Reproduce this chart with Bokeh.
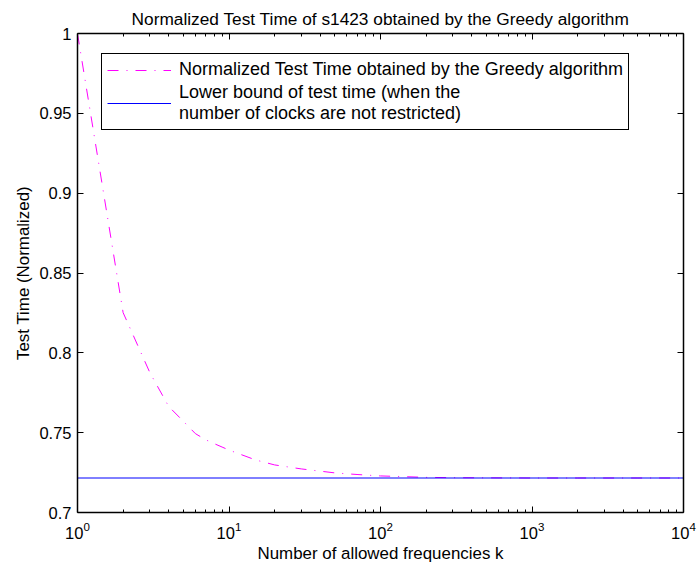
from bokeh.plotting import figure
from bokeh.models import FixedTicker, LogAxis, LinearAxis, Legend, LegendItem, Range1d
from bokeh.embed import file_html
from bokeh.resources import INLINE

# Data
k_vals = [1, 2, 3, 4, 5, 6, 7, 8, 9, 10, 15, 20, 30, 50, 70, 100, 150, 200, 300, 500, 1000, 2000, 5000, 10000]
greedy = [1.0, 0.8252, 0.7877, 0.7664, 0.7571, 0.7494, 0.7456, 0.7431, 0.7410, 0.7391,
          0.7329, 0.7298, 0.7273, 0.7248, 0.7238, 0.7229, 0.7224, 0.7220, 0.7218, 0.7217,
          0.7216, 0.7216, 0.7216, 0.7216]
bound_k = [1, 10000]
bound = [0.7216, 0.7216]

x_major = [1, 10, 100, 1000, 10000]
x_minor = [m * d for d in [1, 10, 100, 1000] for m in range(2, 10)]
y_major = [0.7, 0.75, 0.8, 0.85, 0.9, 0.95, 1.0]
y_labels = {0.7: "0.7", 0.75: "0.75", 0.8: "0.8", 0.85: "0.85", 0.9: "0.9", 0.95: "0.95", 1.0: "1"}

FONT = "Liberation Sans"

p = figure(
    frame_width=606, frame_height=479,
    x_axis_type="log",
    x_range=Range1d(1, 10000), y_range=Range1d(0.7, 1.0),
    output_backend="svg", toolbar_location=None,
    min_border_left=77, min_border_right=16, min_border_top=33, min_border_bottom=53,
    title="Normalized Test Time of s1423 obtained by the Greedy algorithm",
)
p.title.align = "center"
p.title.text_font = FONT
p.title.text_font_size = "17.3px"
p.title.text_font_style = "normal"
p.title.text_color = "black"
p.title.offset = 0
p.title.standoff = 10

# box is formed by the four axis lines; grid lines blend into the white background
p.xgrid.grid_line_color = "white"
p.ygrid.grid_line_color = "white"
p.outline_line_color = None

def style_axis(ax, labels=True):
    ax.axis_line_color = "black"
    ax.axis_line_width = 1.5
    ax.major_tick_in = 6
    ax.major_tick_out = 0
    ax.minor_tick_in = 3
    ax.minor_tick_out = 0
    ax.major_tick_line_color = "black"
    ax.minor_tick_line_color = "black"
    ax.major_tick_line_width = 1
    ax.minor_tick_line_width = 1
    ax.major_label_text_font = FONT
    ax.major_label_text_font_size = "16.5px"
    ax.major_label_text_color = "black"
    ax.axis_label_text_font = FONT
    ax.axis_label_text_font_size = "16.9px"
    ax.axis_label_text_font_style = "normal"
    ax.axis_label_text_color = "black"
    if not labels:
        ax.major_label_text_font_size = "0px"
        ax.major_label_text_alpha = 0
        ax.major_label_standoff = 0

p.xaxis.ticker = FixedTicker(ticks=x_major, minor_ticks=x_minor)
p.yaxis.ticker = FixedTicker(ticks=y_major, minor_ticks=[])
p.yaxis.major_label_overrides = y_labels
p.xaxis.axis_label = "Number of allowed frequencies k"
p.yaxis.axis_label = "Test Time (Normalized)"
style_axis(p.xaxis[0])
style_axis(p.yaxis[0])
p.xaxis.major_label_standoff = 9
p.yaxis.major_label_standoff = 6
p.xaxis.axis_label_standoff = 2
p.yaxis.axis_label_standoff = 3

top = LogAxis(ticker=FixedTicker(ticks=x_major, minor_ticks=x_minor))
style_axis(top, labels=False)
p.add_layout(top, "above")
right = LinearAxis(ticker=FixedTicker(ticks=y_major, minor_ticks=[]))
style_axis(right, labels=False)
p.add_layout(right, "right")

r1 = p.line(k_vals, greedy, line_color="#ff00ff", line_width=1, line_dash="11 8 1 8")
r2 = p.line(bound_k, bound, line_color="#0000ff", line_width=1)

legend = Legend(items=[
    LegendItem(label="Normalized Test Time obtained by the Greedy algorithm", renderers=[r1]),
    LegendItem(label="Lower bound of test time (when the\nnumber of clocks are not restricted)", renderers=[r2]),
], location=(24, 382))
legend.label_text_font = FONT
legend.label_text_font_size = "18px"
legend.label_text_color = "black"
legend.label_standoff = 8
legend.glyph_width = 64
legend.glyph_height = 18
legend.padding = 5
legend.spacing = 2
legend.margin = 0
legend.border_line_color = "black"
legend.border_line_width = 1.5
legend.border_line_alpha = 1
legend.background_fill_alpha = 1
legend.label_height = 18
p.add_layout(legend, "center")

open("out.html", "w").write(file_html(p, INLINE))
